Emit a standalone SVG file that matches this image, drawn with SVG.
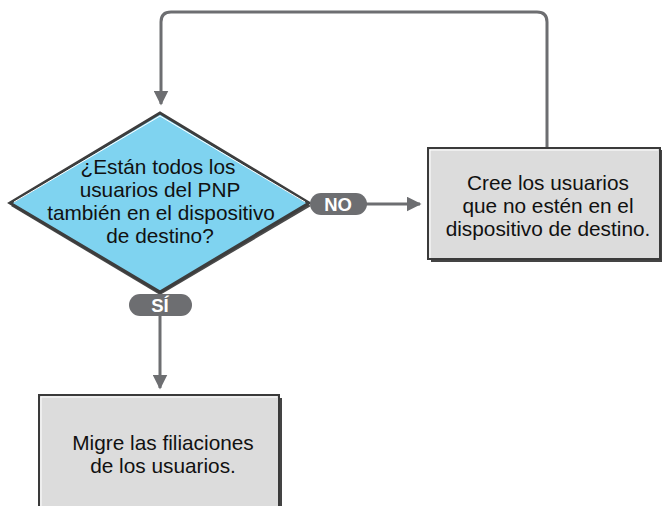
<svg xmlns="http://www.w3.org/2000/svg" width="662" height="506" viewBox="0 0 662 506">
<style>
.t{font-family:"Liberation Sans",Arial,sans-serif;font-size:20.8px;fill:#111;text-anchor:middle}
.pl{font-family:"Liberation Sans",Arial,sans-serif;font-size:18.5px;font-weight:bold;fill:#fff;text-anchor:middle}
.c{fill:none;stroke:#6d6e71;stroke-width:3}
.box{fill:#dcdcdc;stroke:#3a3a3a;stroke-width:2}
</style>
<defs>
<marker id="ah" viewBox="0 0 10 10" refX="9" refY="5" markerWidth="5" markerHeight="5" markerUnits="strokeWidth" orient="auto">
<path d="M0,0 L10,5 L0,10 z" fill="#6d6e71"/>
</marker>
</defs>
<g id="connectors">
<path class="c" d="M547,148 V22 Q547,12 537,12 H171 Q161,12 161,22 V104" marker-end="url(#ah)"/>
<path class="c" d="M366,204 H420" marker-end="url(#ah)"/>
<path class="c" d="M160,316 V388" marker-end="url(#ah)"/>
</g>
<g id="decision">
<polygon points="160,116 311,206 160,295 11,206" fill="#4a4a4a"/>
<polygon points="160,113 309,203 160,292 10,203" fill="#7fd3f0" stroke="#3d3d3d" stroke-width="3" stroke-linejoin="miter"/>
<polyline points="14,202 160,116 305,202" fill="none" stroke="#fff" stroke-width="1"/>
<text class="t" x="158" y="174">¿Están todos los</text>
<text class="t" x="160" y="197">usuarios del PNP</text>
<text class="t" x="161" y="220">también en el dispositivo</text>
<text class="t" x="160" y="243">de destino?</text>
</g>
<g id="label-no">
<rect x="310" y="193" width="57" height="22" rx="11" fill="#6d6e71"/>
<text class="pl" x="338" y="210.5">NO</text>
</g>
<g id="label-si">
<rect x="129" y="294" width="63" height="22" rx="11" fill="#6d6e71"/>
<text class="pl" x="160" y="311.5">SÍ</text>
</g>
<g id="create-users">
<rect x="431" y="150" width="232" height="112" fill="#444"/>
<rect class="box" x="428" y="148" width="232" height="111"/>
<polyline points="430,258 430,150 658,150" fill="none" stroke="#fff" stroke-width="1"/>
<text class="t" x="548" y="190">Cree los usuarios</text>
<text class="t" x="548" y="213">que no estén en el</text>
<text class="t" x="548" y="236">dispositivo de destino.</text>
</g>
<g id="migrate">
<rect x="42" y="398" width="240" height="112" fill="#444"/>
<rect class="box" x="39" y="395" width="240" height="115"/>
<polyline points="41,510 41,397 277,397" fill="none" stroke="#fff" stroke-width="1"/>
<text class="t" x="163" y="450">Migre las filiaciones</text>
<text class="t" x="163" y="473">de los usuarios.</text>
</g>
</svg>
